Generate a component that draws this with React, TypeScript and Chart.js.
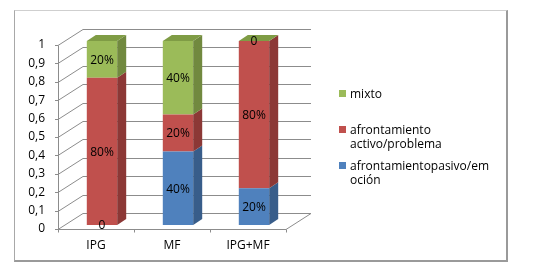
import React, { useEffect, useRef } from "react";
import { Chart, registerables } from "chart.js";

Chart.register(...registerables);

const categories = ["IPG", "MF", "IPG+MF"];
const pasivo = [0, 0.4, 0.2];
const activo = [0.8, 0.2, 0.8];
const mixto = [0.2, 0.4, 0];
const seriesNames = ["afrontamientopasivo/emoción", "afrontamiento activo/problema", "mixto"];
const legendLines = [["mixto"], ["afrontamiento", "activo/problema"], ["afrontamientopasivo/em", "oción"]];
const yTickLabels = ["0", "0,1", "0,2", "0,3", "0,4", "0,5", "0,6", "0,7", "0,8", "0,9", "1"];

const FRONT = ["#4F81BD", "#C0504D", "#9BBB59"];
const SIDE = ["#385D8A", "#8C3836", "#71893F"];
const TOP = ["#4572A7", "#A8423F", "#7F9C45"];
const legendColors = ["#9BBB59", "#C0504D", "#4F81BD"];

const FONT = "'Open Sans', 'DejaVu Sans', sans-serif";

const DX = 25, DY = -16; // wall depth
const BX = 6, BY = -4; // bar front offset
const BDX = 9, BDY = -6; // bar depth

const fmt = (v: number) => (v === 0 ? "0" : Math.round(v * 100) + "%");

const threeD = {
  id: "threeD",
  beforeDatasetsDraw(chart: any) {
    const { ctx, chartArea: a, scales } = chart;
    const y = scales.y;
    const x = scales.x;
    ctx.save();
    ctx.strokeStyle = "#8c8c8c";
    ctx.lineWidth = 1;
    y.ticks.forEach((t: any) => {
      const py = Math.round(y.getPixelForValue(t.value)) + 0.5;
      ctx.beginPath();
      ctx.moveTo(a.left - 3, py);
      ctx.lineTo(a.left, py);
      ctx.lineTo(a.left + DX, py + DY);
      ctx.lineTo(a.right + DX, py + DY);
      ctx.stroke();
    });
    const by = Math.round(y.getPixelForValue(0)) + 0.5;
    const ty = Math.round(y.getPixelForValue(1)) + 0.5;
    // left axis
    ctx.beginPath();
    ctx.moveTo(a.left + 0.5, ty);
    ctx.lineTo(a.left + 0.5, by);
    ctx.stroke();
    // floor front edge and right diagonal
    ctx.beginPath();
    ctx.moveTo(a.left, by);
    ctx.lineTo(a.right, by);
    ctx.lineTo(a.right + DX, by + DY);
    ctx.stroke();
    // category tick marks
    for (let i = 0; i <= categories.length; i++) {
      const px = Math.round(a.left + ((a.right - a.left) * i) / categories.length) + 0.5;
      ctx.beginPath();
      ctx.moveTo(px, by);
      ctx.lineTo(px, by + 3);
      ctx.stroke();
    }
    ctx.restore();
    ctx.save();
    ctx.translate(BX, BY);
  },
  afterDatasetsDraw(chart: any) {
    const { ctx } = chart;
    ctx.restore();
    const n = chart.data.datasets.length;
    ctx.save();
    ctx.translate(BX, BY);
    for (let i = 0; i < categories.length; i++) {
      // find topmost index
      let topIdx = n - 1;
      for (let d = 0; d < n; d++) {
        const el: any = chart.getDatasetMeta(d).data[i];
        const { x, y, base, width } = el.getProps(["x", "y", "base", "width"], true);
        const x2 = x + width / 2;
        const x1 = x - width / 2;
        const yTop = Math.min(y, base);
        const yBot = Math.max(y, base);
        if (yBot - yTop > 0.5) {
          ctx.fillStyle = SIDE[d];
          ctx.beginPath();
          ctx.moveTo(x2, yTop);
          ctx.lineTo(x2 + BDX, yTop + BDY);
          ctx.lineTo(x2 + BDX, yBot + BDY);
          ctx.lineTo(x2, yBot);
          ctx.closePath();
          ctx.fill();
        }
        if (d === topIdx) {
          ctx.fillStyle = TOP[d];
          ctx.beginPath();
          ctx.moveTo(x1, yTop);
          ctx.lineTo(x1 + BDX, yTop + BDY);
          ctx.lineTo(x2 + BDX, yTop + BDY);
          ctx.lineTo(x2, yTop);
          ctx.closePath();
          ctx.fill();
        }
      }
      // labels
      ctx.fillStyle = "#000";
      ctx.font = "12px " + FONT;
      ctx.textAlign = "center";
      ctx.textBaseline = "middle";
      for (let d = 0; d < n; d++) {
        const el: any = chart.getDatasetMeta(d).data[i];
        const { x, y, base } = el.getProps(["x", "y", "base"], true);
        const v = chart.data.datasets[d].data[i] as number;
        ctx.fillText(fmt(v), x, (y + base) / 2 + 1);
      }
    }
    ctx.restore();
  },
};

function App() {
  const ref = useRef<HTMLCanvasElement | null>(null);
  useEffect(() => {
    if (!ref.current) return;
    const series = [pasivo, activo, mixto];
    const chart = new Chart(ref.current, {
      type: "bar",
      data: {
        labels: categories,
        datasets: series.map((s, i) => ({
          label: seriesNames[i],
          data: s,
          backgroundColor: FRONT[i],
          borderWidth: 0,
          categoryPercentage: 1,
          barPercentage: 0.4,
          clip: false as any,
        })),
      },
      options: {
        animation: false,
        responsive: true,
        maintainAspectRatio: false,
        layout: { padding: { left: 0, top: 45, right: 260, bottom: 0 } },
        plugins: { legend: { display: false }, tooltip: { enabled: false } },
        scales: {
          x: {
            stacked: true,
            grid: { display: false, drawTicks: false },
            border: { display: false },
            ticks: { font: { family: FONT, size: 12 }, color: "#000", padding: 9 },
            afterFit: (s: any) => {
              s.height = 43;
            },
          },
          y: {
            stacked: true,
            min: 0,
            max: 1,
            grid: { display: false, drawTicks: false },
            border: { display: false },
            ticks: {
              stepSize: 0.1,
              font: { family: FONT, size: 12 },
              color: "#000",
              padding: 13,
              callback: (_v: any, idx: number) => yTickLabels[idx],
            },
            afterFit: (s: any) => {
              s.width = 58;
            },
          },
        },
      },
      plugins: [threeD],
    });
    return () => chart.destroy();
  }, []);

  return (
    <div style={{ position: "fixed", left: 0, top: 0, width: 546, height: 272, background: "#fff", fontFamily: FONT }}>
      <div
        style={{
          position: "absolute",
          left: 14,
          top: 10,
          width: 494,
          height: 252,
          borderTop: "1px solid #cfcfcf",
          borderLeft: "1px solid #a8a8a8",
          borderRight: "2px solid #9a9a9a",
          borderBottom: "2px solid #9a9a9a",
          boxSizing: "border-box",
        }}
      />
      <div style={{ position: "absolute", left: 0, top: 0, width: 546, height: 272 }}>
        <canvas ref={ref} />
      </div>
      {legendLines.map((lines, i) => {
        const tops = [87, 123, 159];
        return (
          <div key={i} style={{ position: "absolute", left: 339, top: tops[i], fontSize: 12, lineHeight: "14px", color: "#000" }}>
            <div style={{ position: "absolute", left: 0, top: 3, width: 7, height: 7, background: legendColors[i] }} />
            <div style={{ marginLeft: 11, whiteSpace: "nowrap" }}>
              {lines.map((l, j) => (
                <div key={j}>{l}</div>
              ))}
            </div>
          </div>
        );
      })}
    </div>
  );
}

export default App;
